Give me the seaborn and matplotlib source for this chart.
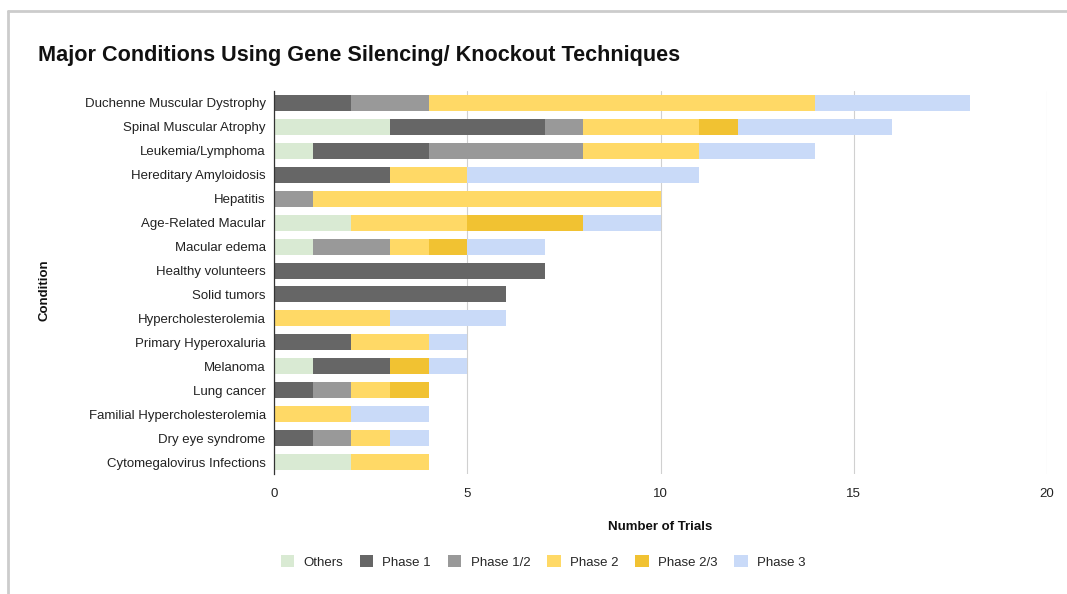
import numpy as np
import pandas as pd
import matplotlib
matplotlib.use("Agg")
import matplotlib.pyplot as plt
import seaborn as sns
from matplotlib.patches import Patch
from matplotlib.lines import Line2D

conditions = ["Duchenne Muscular Dystrophy", "Spinal Muscular Atrophy", "Leukemia/Lymphoma",
              "Hereditary Amyloidosis", "Hepatitis", "Age-Related Macular", "Macular edema",
              "Healthy volunteers", "Solid tumors", "Hypercholesterolemia", "Primary Hyperoxaluria",
              "Melanoma", "Lung cancer", "Familial Hypercholesterolemia", "Dry eye syndrome",
              "Cytomegalovirus Infections"]
others   = [0, 3, 1, 0, 0, 2, 1, 0, 0, 0, 0, 1, 0, 0, 0, 2]
phase1   = [2, 4, 3, 3, 0, 0, 0, 7, 6, 0, 2, 2, 1, 0, 1, 0]
phase12  = [2, 1, 4, 0, 1, 0, 2, 0, 0, 0, 0, 0, 1, 0, 1, 0]
phase2   = [10, 3, 3, 2, 9, 3, 1, 0, 0, 3, 2, 0, 1, 2, 1, 2]
phase23  = [0, 1, 0, 0, 0, 3, 1, 0, 0, 0, 0, 1, 1, 0, 0, 0]
phase3   = [4, 4, 3, 6, 0, 2, 2, 0, 0, 3, 1, 1, 0, 2, 1, 0]
series_names = ["Others", "Phase 1", "Phase 1/2", "Phase 2", "Phase 2/3", "Phase 3"]
colors = ["#d9ead3", "#666666", "#999999", "#ffd966", "#f1c232", "#c9daf8"]

series = [others, phase1, phase12, phase2, phase23, phase3]
cum = np.cumsum(np.array(series), axis=0)

sns.set_style("white")
plt.rcParams["font.family"] = ["Liberation Sans", "DejaVu Sans"]

fig = plt.figure(figsize=(10.67, 5.94), dpi=100)
ax = fig.add_axes([274/1067, 1 - 474/594, (1047-274)/1067, (474-91)/594])
ax.set_axisbelow(True)

for i in range(len(series) - 1, -1, -1):
    df = pd.DataFrame({"Condition": conditions, "value": cum[i]})
    sns.barplot(data=df, y="Condition", x="value", orient="h", order=conditions,
                color=colors[i], saturation=1, width=0.67, ax=ax, zorder=3,
                linewidth=0, edgecolor="none")

ax.set_xlim(0, 20)
ax.set_xticks([0, 5, 10, 15, 20])
ax.set_ylim(len(conditions) - 0.5, -0.5)
ax.grid(axis="x", color="#d0d0d0", linewidth=0.8, zorder=0)
ax.grid(axis="y", visible=False)
for s in ["top", "right", "bottom"]:
    ax.spines[s].set_visible(False)
ax.spines["left"].set_color("#333333")
ax.spines["left"].set_linewidth(0.9)
ax.spines["left"].set_zorder(5)
ax.tick_params(axis="both", length=0, labelsize=9.5, colors="#222222")
ax.tick_params(axis="y", pad=6)
ax.tick_params(axis="x", pad=10)
ax.set_xlabel("")
ax.set_ylabel("")

fig.text(38/1067, 1 - 55/594, "Major Conditions Using Gene Silencing/ Knockout Techniques",
         fontsize=15.6, fontweight="bold", ha="left", va="center", color="#111111")
fig.text(660/1067, 1 - 527/594, "Number of Trials", fontsize=9.5, fontweight="bold",
         ha="center", va="center", color="#111111")
fig.text(45/1067, 1 - 290/594, "Condition", fontsize=9.5, fontweight="bold",
         ha="center", va="center", rotation=90, color="#111111")

handles = [Patch(facecolor=c, edgecolor="none") for c in colors]
fig.legend(handles, series_names, loc="center", bbox_to_anchor=(543/1067, 1 - 562/594),
           ncol=6, frameon=False, fontsize=9.5, handlelength=1.0, handleheight=1.0,
           columnspacing=1.3, handletextpad=0.7)

# screenshot frame
fig.add_artist(Line2D([8/1067, 1], [1 - 11/594, 1 - 11/594], color="#cccccc", linewidth=2,
                      transform=fig.transFigure))
fig.add_artist(Line2D([8/1067, 8/1067], [0, 1 - 11/594], color="#cccccc", linewidth=2,
                      transform=fig.transFigure))

fig.savefig("out.png", dpi=100, facecolor="white")
